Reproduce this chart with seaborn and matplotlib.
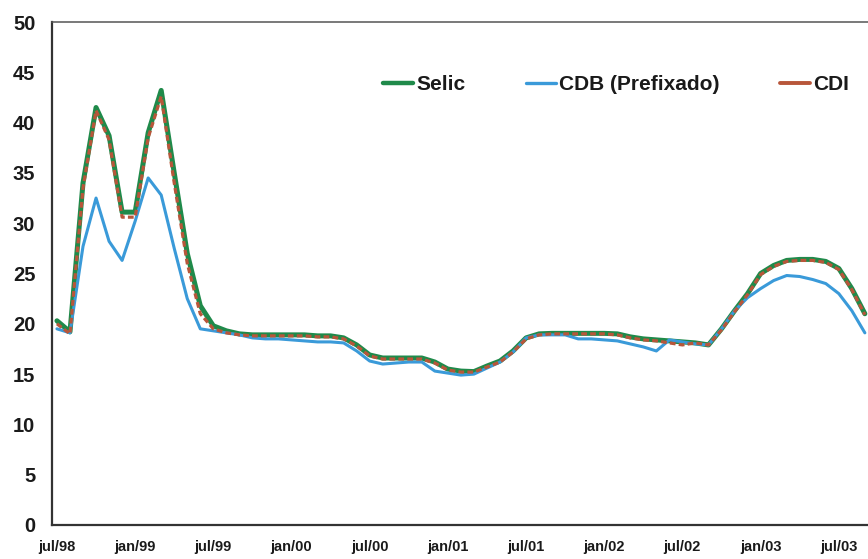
import matplotlib
matplotlib.use("Agg")
import matplotlib.pyplot as plt
import seaborn as sns
import pandas as pd
import numpy as np
from matplotlib.lines import Line2D

# Monthly rates (% a.a.), jul/98 .. sep/03
selic = [20.3, 19.2, 34.0, 41.5, 38.7, 31.1, 31.1, 39.0, 43.2, 35.0,
         27.0, 21.8, 19.8, 19.3, 19.0, 18.9, 18.9, 18.9, 18.9, 18.9,
         18.8, 18.8, 18.6, 17.9, 16.9, 16.6, 16.6, 16.6, 16.6, 16.2,
         15.5, 15.3, 15.25, 15.8, 16.3, 17.3, 18.6, 19.0, 19.05, 19.05,
         19.05, 19.05, 19.05, 19.0, 18.7, 18.5, 18.4, 18.3, 18.2, 18.1,
         17.9, 19.5, 21.3, 23.0, 25.0, 25.8, 26.3, 26.4, 26.4, 26.2,
         25.5, 23.5, 21.0]

cdb = [19.5, 19.1, 27.7, 32.5, 28.2, 26.3, 30.2, 34.5, 32.8, 27.5,
       22.5, 19.5, 19.3, 19.1, 18.9, 18.6, 18.5, 18.5, 18.4, 18.3,
       18.2, 18.2, 18.1, 17.3, 16.3, 16.0, 16.1, 16.2, 16.2, 15.3,
       15.1, 14.9, 15.0, 15.6, 16.2, 17.2, 18.6, 18.9, 18.9, 18.9,
       18.5, 18.5, 18.4, 18.3, 18.0, 17.7, 17.3, 18.4, 18.2, 18.0,
       17.9, 19.5, 21.3, 22.6, 23.5, 24.3, 24.8, 24.7, 24.4, 24.0,
       23.0, 21.3, 19.1]

cdi = [20.0, 19.0, 33.5, 41.2, 38.3, 30.6, 30.6, 38.5, 42.6, 34.0,
       26.0, 21.0, 19.5, 19.1, 18.9, 18.8, 18.8, 18.8, 18.8, 18.8,
       18.7, 18.7, 18.5, 17.8, 16.8, 16.5, 16.5, 16.5, 16.5, 16.1,
       15.4, 15.2, 15.2, 15.7, 16.2, 17.2, 18.5, 18.9, 19.0, 19.0,
       19.0, 19.0, 19.0, 18.9, 18.6, 18.4, 18.3, 18.1, 17.9, 18.1,
       17.9, 19.4, 21.2, 22.9, 24.9, 25.7, 26.2, 26.3, 26.3, 26.1,
       25.4, 23.4, 20.9]

tick_labels = ["jul/98", "jan/99", "jul/99", "jan/00", "jul/00", "jan/01",
               "jul/01", "jan/02", "jul/02", "jan/03", "jul/03"]
series_names = ["Selic", "CDB (Prefixado)", "CDI"]

sns.set_theme(style="white")
plt.rcParams["font.family"] = ["Liberation Sans", "DejaVu Sans"]

fig = plt.figure(figsize=(8.68, 5.59), dpi=100)
ax = fig.add_axes([52 / 868, 34 / 559, 816 / 868, 503 / 559])

df = pd.DataFrame({"mes": np.arange(len(selic)),
                   series_names[0]: selic,
                   series_names[1]: cdb,
                   series_names[2]: cdi})

c_selic = "#1f8a4a"
c_cdb = "#3a9ad9"
c_cdi = "#b8563a"

sns.lineplot(data=df, x="mes", y=series_names[0], color=c_selic, lw=3.6, ax=ax)
sns.lineplot(data=df, x="mes", y=series_names[1], color=c_cdb, lw=2.2, ax=ax)
sns.lineplot(data=df, x="mes", y=series_names[2], color=c_cdi, lw=2.3, ax=ax,
             linestyle=(0, (1.8, 1.0)))

ax.set_xlim(-0.38, 62.24)
ax.set_ylim(0, 50)
ax.set_yticks(range(0, 51, 5))
ax.set_xticks(range(0, 61, 6))
ax.set_xticklabels(tick_labels)
ax.set_xlabel("")
ax.set_ylabel("")

for s in ["left", "bottom"]:
    ax.spines[s].set_color("#333333")
    ax.spines[s].set_linewidth(1.6)
ax.spines["top"].set_color("#555555")
ax.spines["top"].set_linewidth(1.1)
ax.spines["right"].set_visible(False)

ax.tick_params(axis="both", direction="out", length=4, width=1.2, color="#333333")
ax.tick_params(axis="y", pad=8, labelsize=14.5)
ax.tick_params(axis="x", pad=7, labelsize=10.5)
for t in ax.get_yticklabels():
    t.set_fontweight("bold")
    t.set_color("#1a1a1a")
for t in ax.get_xticklabels():
    t.set_fontweight("bold")
    t.set_color("#1a1a1a")
    t.set_family(["Liberation Sans Narrow", "Liberation Sans"])

handles = [Line2D([], [], color=c_selic, lw=3.2),
           Line2D([], [], color=c_cdb, lw=2.4),
           Line2D([], [], color=c_cdi, lw=2.8)]
leg = fig.legend(handles, series_names, loc="center",
                 bbox_to_anchor=(616 / 868, 1 - 85 / 559), ncol=3, frameon=False,
                 prop={"weight": "bold", "size": 15}, handlelength=1.45,
                 handletextpad=0.15, columnspacing=2.9)
for t in leg.get_texts():
    t.set_color("#1a1a1a")

fig.savefig("out.png", dpi=100, facecolor="white")
